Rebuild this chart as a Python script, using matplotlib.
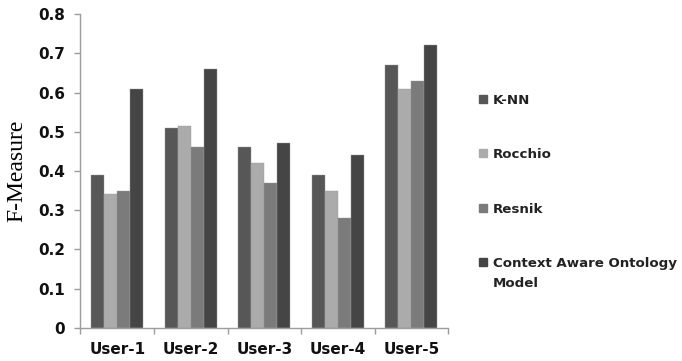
import numpy as np
import matplotlib
matplotlib.use('Agg')
import matplotlib.pyplot as plt
from matplotlib.patches import Rectangle
from matplotlib.ticker import FixedLocator

# F-measure per user for each recommendation method
users = ['User-1', 'User-2', 'User-3', 'User-4', 'User-5']
knn = [0.39, 0.51, 0.46, 0.39, 0.67]
rocchio = [0.34, 0.515, 0.42, 0.35, 0.61]
resnik = [0.35, 0.46, 0.37, 0.28, 0.63]
context_aware = [0.61, 0.66, 0.47, 0.44, 0.72]

series_names = ['K-NN', 'Rocchio', 'Resnik', 'Context Aware Ontology\nModel']
series_values = [knn, rocchio, resnik, context_aware]
colors = ['#575757', '#ababab', '#7b7b7b', '#454545']

W, H = 682, 361
fig = plt.figure(figsize=(W / 100, H / 100), dpi=100)
ax = fig.add_axes([0.118, 0.092, 0.539, 0.869])

x = np.arange(len(users))
bar_w = 0.178
for i, (name, vals, col) in enumerate(zip(series_names, series_values, colors)):
    offset = (i - 1.5) * bar_w
    ax.bar(x + offset, vals, width=bar_w, color=col, label=name,
           edgecolor='#9a9a9a', linewidth=0.3)

ax.set_xlim(-0.5, len(users) - 0.5)
ax.set_ylim(0, 0.8)
ax.set_yticks(np.arange(0, 0.81, 0.1))
ax.set_yticklabels(['0'] + [f'{v:.1f}' for v in np.arange(0.1, 0.81, 0.1)])
ax.set_xticks(x)
ax.set_xticklabels(users)
ax.xaxis.set_minor_locator(FixedLocator(np.arange(-0.5, len(users), 1.0)))

for side in ['top', 'right']:
    ax.spines[side].set_visible(False)
for side in ['left', 'bottom']:
    ax.spines[side].set_color('#9c9c9c')
    ax.spines[side].set_linewidth(1.0)

ax.tick_params(axis='y', length=4, width=1, color='#9c9c9c', pad=7,
               labelsize=11, labelcolor='#111111')
ax.tick_params(axis='x', which='major', length=0, pad=10,
               labelsize=11, labelcolor='#111111')
ax.tick_params(axis='x', which='minor', length=4, width=1, color='#9c9c9c')
for lbl in ax.get_xticklabels() + ax.get_yticklabels():
    lbl.set_fontweight('bold')

ax.set_ylabel('F-Measure', family='Liberation Serif', fontsize=17, labelpad=8)

# Legend drawn by hand: square swatch next to the first line of each label
legend_rows_px = [99, 153, 208, 262]
for name, col, row in zip(series_names, colors, legend_rows_px):
    sq = 7.5
    fig.patches.append(Rectangle(((479) / W, 1 - (row + sq / 2) / H),
                                 sq / W, sq / H, color=col,
                                 transform=fig.transFigure, figure=fig))
    fig.text(493 / W, 1 - (row - 5.4) / H, name, ha='left', va='top',
             fontsize=9.6, fontweight='bold', color='#222222',
             linespacing=1.75)

fig.savefig('out.png', dpi=100)
